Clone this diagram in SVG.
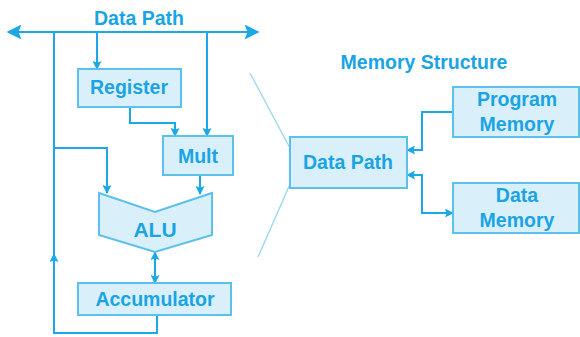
<svg xmlns="http://www.w3.org/2000/svg" width="580" height="337" viewBox="0 0 580 337">
<defs>
<style>
.box{fill:#d9f0fb;stroke:#5cc0ec;stroke-width:2}
.t{font-family:"Liberation Sans",Arial,sans-serif;font-weight:bold;fill:#1aa4e4;text-anchor:middle;font-size:19.5px}
.ln{fill:none;stroke:#1aa8e6;stroke-width:2}
.thin{fill:none;stroke:#8fd3f3;stroke-width:1.2}
</style>
<marker id="ah" viewBox="0 0 10 10" refX="9" refY="5" markerWidth="10" markerHeight="9" orient="auto-start-reverse" markerUnits="userSpaceOnUse">
<path d="M0,0 L10,5 L0,10 L2,5 z" fill="#1aa8e6"/>
</marker>
<marker id="bh" viewBox="0 0 10 10" refX="9" refY="5" markerWidth="18" markerHeight="15" orient="auto-start-reverse" markerUnits="userSpaceOnUse">
<path d="M0,0 L10,5 L0,10 L2,5 z" fill="#1aa8e6"/>
</marker>
</defs>
<rect width="580" height="337" fill="#ffffff"/>
<text class="t" x="139" y="25">Data Path</text>
<text class="t" x="424" y="69">Memory Structure</text>
<g id="connectors">
<line class="ln" x1="8" y1="32" x2="258" y2="32" stroke-width="4.5" marker-start="url(#bh)" marker-end="url(#bh)"/>
<path class="ln" d="M54,32 V333 H157 V315"/>
<path class="ln" d="M54,272 V254" marker-end="url(#ah)"/>
<path class="ln" d="M54,148 H107 V193" marker-end="url(#ah)"/>
<path class="ln" d="M97,32 V69" marker-end="url(#ah)"/>
<path class="ln" d="M130,107 V123 H175 V136" marker-end="url(#ah)"/>
<path class="ln" d="M207,32 V136" marker-end="url(#ah)"/>
<path class="ln" d="M200,175 V194" marker-end="url(#ah)"/>
<path class="ln" d="M155,252 V283" marker-start="url(#ah)" marker-end="url(#ah)"/>
<path class="ln" d="M453,112 H422 V150 H407" marker-end="url(#ah)"/>
<path class="ln" d="M407,175 H422 V213 H453" marker-start="url(#ah)" marker-end="url(#ah)"/>
<line class="thin" x1="250" y1="73" x2="291" y2="150"/>
<line class="thin" x1="291" y1="182" x2="258" y2="257"/>
</g>
<g id="register">
<rect class="box" x="78" y="69" width="103" height="38"/>
<text class="t" x="129" y="94">Register</text>
</g>
<g id="mult">
<rect class="box" x="163" y="136" width="70" height="39"/>
<text class="t" x="198" y="163">Mult</text>
</g>
<g id="alu">
<path class="box" d="M99,193 L155,212 L212,193 V235 L155,252 L99,235 Z"/>
<text class="t" x="155" y="237" style="font-size:21px">ALU</text>
</g>
<g id="accumulator">
<rect class="box" x="78" y="283" width="153" height="32"/>
<text class="t" x="155" y="306">Accumulator</text>
</g>
<g id="datapath">
<rect class="box" x="290" y="137" width="117" height="51"/>
<text class="t" x="348" y="169">Data Path</text>
</g>
<g id="program-memory">
<rect class="box" x="453" y="87" width="126" height="50"/>
<text class="t" x="517" y="106">Program</text>
<text class="t" x="517" y="131">Memory</text>
</g>
<g id="data-memory">
<rect class="box" x="453" y="183" width="126" height="50"/>
<text class="t" x="517" y="202">Data</text>
<text class="t" x="517" y="227">Memory</text>
</g>
</svg>
